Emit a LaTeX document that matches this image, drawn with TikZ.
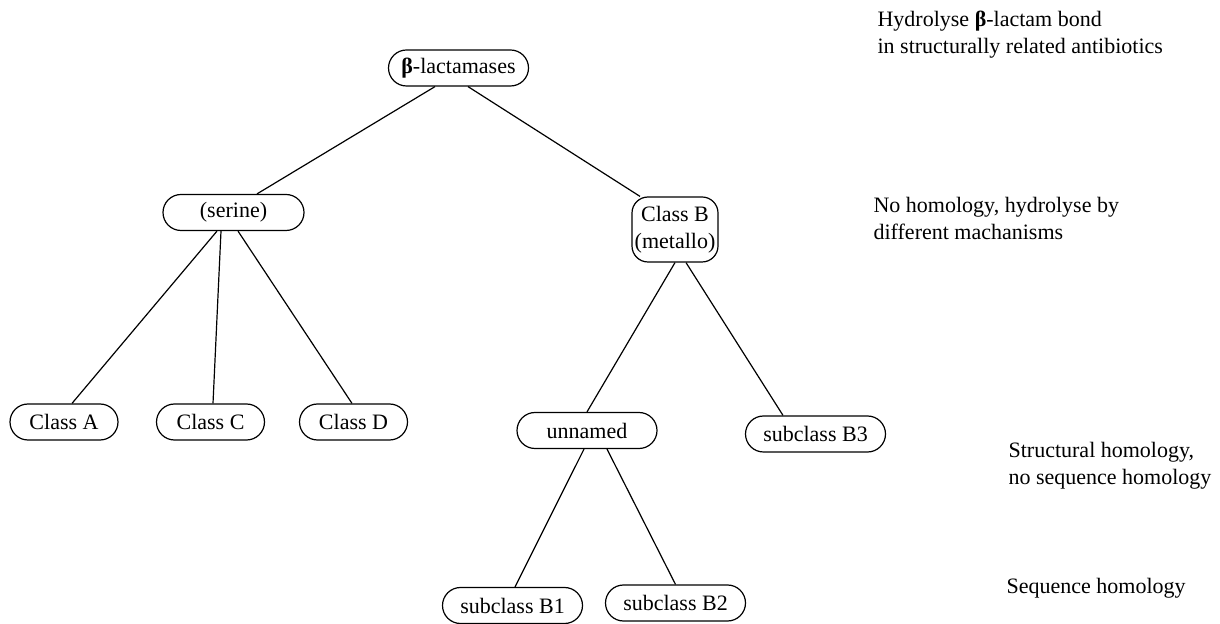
\documentclass[tikz,border=0pt]{standalone}
\usepackage{fontspec}
\setmainfont{Liberation Serif}
\usepackage{tikz}

\begin{document}
\begin{tikzpicture}[x=0.5pt, y=-0.5pt,
    every node/.style={font=\fontsize{11}{13.5}\selectfont},
    box/.style={draw, rounded corners=9pt, minimum height=18pt, inner sep=0pt},
    note/.style={anchor=base west, align=left, inner sep=0pt},
    line width=0.6pt]
                            \useasboundingbox (0,0) rectangle (1220,624);
                            % Nodes
                            \node[box, minimum width=70pt] (lact) at (458.5,68) {\textbf{β}-lactamases};
                            \node[box, minimum width=70.5pt] (serine) at (233.5,212.5) {(serine)};
                            \node[box, minimum width=43pt, minimum height=32.5pt, rounded corners=8pt, align=center] (classB) at (675,229.5) {Class B\\(metallo)};
                            \foreach \name/\txt/\x in {classA/Class A/64, classC/Class C/210.5, classD/Class D/353.5} {
                              \node[box, minimum width=54pt] (\name) at (\x,422) {\txt};
                            }
                            \node[box, minimum width=70pt] (unnamed) at (587,430.5) {unnamed};
                            \node[box, minimum width=70pt] (subB3) at (815.5,434) {subclass B3};
                            \node[box, minimum width=70pt] (subB1) at (512.5,605.5) {subclass B1};
                            \node[box, minimum width=70pt] (subB2) at (675.5,603) {subclass B2};
                            % Edges
                            \foreach \source/\a/\target/\b in {lact/-11.75/serine/11.75, lact/4.75/classB/-17.5,
                                serine/-8.25/classA/4, serine/-6.25/classC/1.25, serine/2.25/classD/-0.75,
                                classB/0/unnamed/0, classB/5.5/subB3/-16.25,
                                unnamed/-1.5/subB1/1.25, unnamed/10/subB2/0} {
                              \draw ([xshift=\a pt]\source.south) -- ([xshift=\b pt]\target.north);
                            }
                            % Notes (placed by the baseline of their last line)
                            \node[note] (n1) at (877,54) {Hydrolyse \textbf{β}-lactam bond\\in structurally related antibiotics};
                            \node[note] (n2) at (873,240) {No homology, hydrolyse by\\different machanisms};
                            \node[note] (n3) at (1008,485) {Structural homology,\\no sequence homology};
                            \node[note] (n4) at (1006,593) {Sequence homology};
                        \end{tikzpicture}
\end{document}
